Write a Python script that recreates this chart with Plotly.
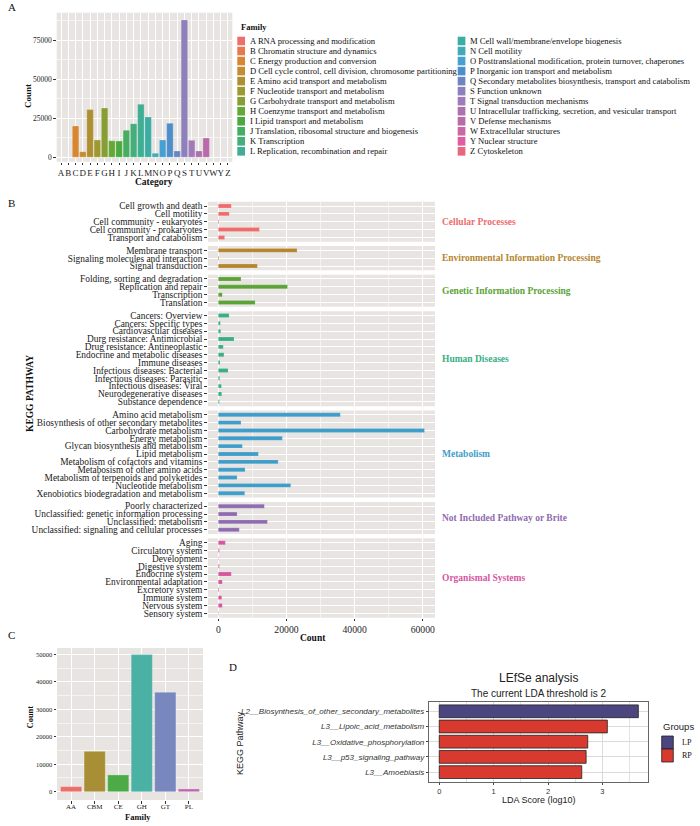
import plotly.graph_objects as go

W, H = 700, 826
SERIF = "Liberation Serif, Times New Roman, serif"
SANS = "Liberation Sans, Arial, sans-serif"

# ---------------- Panel A: COG categories ----------------
cog_letters = ["A", "B", "C", "D", "E", "F", "G", "H", "I", "J", "K", "L",
               "M", "N", "O", "P", "Q", "S", "T", "U", "V", "W", "Y", "Z"]
cog_counts = [0, 0, 20000, 3500, 30500, 11000, 31500, 10500, 10300, 17300, 21500, 34000,
              25800, 2500, 11000, 21800, 4000, 88000, 10800, 4000, 12300, 0, 0, 0]
cog_names = ["RNA processing and modification",
             "Chromatin structure and dynamics",
             "Energy production and conversion",
             "Cell cycle control, cell division, chromosome partitioning",
             "Amino acid transport and metabolism",
             "Nucleotide transport and metabolism",
             "Carbohydrate transport and metabolism",
             "Coenzyme transport and metabolism",
             "Lipid transport and metabolism",
             "Translation, ribosomal structure and biogenesis",
             "Transcription",
             "Replication, recombination and repair",
             "Cell wall/membrane/envelope biogenesis",
             "Cell motility",
             "Posttranslational modification, protein turnover, chaperones",
             "Inorganic ion transport and metabolism",
             "Secondary metabolites biosynthesis, transport and catabolism",
             "Function unknown",
             "Signal transduction mechanisms",
             "Intracellular trafficking, secretion, and vesicular transport",
             "Defense mechanisms",
             "Extracellular structures",
             "Nuclear structure",
             "Cytoskeleton"]

# ---------------- Panel B: KEGG pathways ----------------
kegg_groups = ["Cellular Processes", "Environmental Information Processing",
               "Genetic Information Processing", "Human Diseases", "Metabolism",
               "Not Included Pathway or Brite", "Organismal Systems"]

cp_pathways = ["Cell growth and death", "Cell motility", "Cell community - eukaryotes",
               "Cell community - prokaryotes", "Transport and catabolism"]
cp_counts = [3800, 3200, 200, 12050, 1850]

eip_pathways = ["Membrane transport", "Signaling molecules and interaction", "Signal transduction"]
eip_counts = [23100, 200, 11450]

gip_pathways = ["Folding, sorting and degradation", "Replication and repair",
                "Transcription", "Translation"]
gip_counts = [6650, 20300, 1150, 10800]

hd_pathways = ["Cancers: Overview", "Cancers: Specific types", "Cardiovascular diseases",
               "Durg resistance: Antimicrobial", "Drug resistance: Antineoplastic",
               "Endocrine and metabolic diseases", "Immune diseases",
               "Infectious diseases: Bacterial", "Infectious diseases: Parasitic",
               "Infectious diseases: Viral", "Neurodegenerative diseases",
               "Substance dependence"]
hd_counts = [3150, 600, 700, 4600, 1450, 1650, 500, 2850, 400, 900, 1000, 300]

met_pathways = ["Amino acid metabolism", "Biosynthesis of other secondary metabolites",
                "Carbohydrate metabolism", "Energy metabolism",
                "Glycan biosynthesis and metabolism", "Lipid metabolism",
                "Metabolism of cofactors and vitamins", "Metabosism of other amino acids",
                "Metabolism of terpenoids and polyketides", "Nucleotide metabolism",
                "Xenobiotics biodegradation and metabolism"]
met_counts = [35800, 6650, 60500, 18800, 7050, 11750, 17550, 7850, 5500, 21250, 7750]

nip_pathways = ["Poorly characterized", "Unclassified: genetic information processing",
                "Unclassified: metabolism", "Unclassified: signaling and cellular processes"]
nip_counts = [13500, 5500, 14400, 6150]

os_pathways = ["Aging", "Circulatory system", "Development", "Digestive system",
               "Endocrine system", "Environmental adaptation", "Excretory system",
               "Immune system", "Nervous system", "Sensory system"]
os_counts = [2050, 300, 100, 300, 3800, 1150, 200, 1000, 1150, 100]

# ---------------- Panel C: CAZy families ----------------
cazy_families = ["AA", "CBM", "CE", "GH", "GT", "PL"]
cazy_counts = [1850, 14700, 6100, 49900, 36200, 1000]

# ---------------- Panel D: LEfSe ----------------
lefse_features = ["L2__Biosynthesis_of_other_secondary_metabolites",
                  "L3__Lipoic_acid_metabolism",
                  "L3__Oxidative_phosphorylation",
                  "L3__p53_signaling_pathway",
                  "L3__Amoebiasis"]
lefse_lda = [3.66, 3.09, 2.73, 2.70, 2.62]
lefse_groups = ["LP", "RP", "RP", "RP", "RP"]
lefse_group_names = ["LP", "RP"]

# ---------------- colours (styling) ----------------
cog_colors = ["#EE6E6E", "#E8794F", "#D88630", "#C48D31", "#AE8F32", "#9C9933",
              "#879E34", "#64A837", "#4AAA3E", "#47AD60", "#44AF7C", "#3FAE93",
              "#3BADA3", "#42A9B6", "#47A0D0", "#4E8FCB", "#6E86C0", "#8D80BD",
              "#A07AB9", "#AC72AE", "#B96AA8", "#C869A6", "#E15AA2", "#E6677E"]
kegg_colors = ["#EE6C6C", "#B5862F", "#5BA337", "#3AAE84", "#3E9DC9", "#8F6BB0", "#D4569F"]
cazy_colors = ["#EC6E6B", "#A88F35", "#4DAB47", "#4CB1A5", "#7888BF", "#C465AF"]
lefse_group_colors = ["#4B4580", "#D93A2F"]


def X(px):
    return px / W


def Y(py):
    return 1 - py / H


PANEL_BG = "#E8E4E1"
TICKC = "#333333"

fig = go.Figure()
layout = dict(width=W, height=H, margin=dict(l=0, r=0, t=0, b=0),
              paper_bgcolor="white", plot_bgcolor="rgba(0,0,0,0)",
              showlegend=False, font=dict(family=SERIF, color="#1a1a1a"))
shapes = []
annotations = []


def ann(text, x, y, size, family=SERIF, color="#111", xanchor="center", yanchor="middle",
        angle=0, bold=False):
    t = "<b>%s</b>" % text if bold else text
    annotations.append(dict(text=t, x=X(x), y=Y(y), xref="paper", yref="paper",
                            showarrow=False, xanchor=xanchor, yanchor=yanchor,
                            textangle=angle, font=dict(family=family, size=size, color=color)))


def bg_rect(xn, yn, color=PANEL_BG):
    shapes.append(dict(type="rect", xref=xn + " domain", yref=yn + " domain",
                       x0=0, x1=1, y0=0, y1=1, fillcolor=color, line=dict(width=0),
                       layer="below"))


# ---------------- Panel A ----------------
fig.add_trace(go.Bar(x=cog_letters, y=cog_counts, marker=dict(color=cog_colors,
                     line=dict(color="rgba(255,255,255,0.5)", width=0.5)),
                     width=0.9, xaxis="x", yaxis="y"))
layout["xaxis"] = dict(domain=[X(56.7), X(232.3)], anchor="y", type="category",
                       categoryorder="array", categoryarray=cog_letters,
                       tickmode="array", tickvals=cog_letters, ticktext=cog_letters,
                       tickangle=0,
                       range=[-0.6, len(cog_letters) - 0.4], showgrid=True,
                       gridcolor="white", gridwidth=1, zeroline=False, ticks="outside",
                       ticklen=2.5, tickcolor=TICKC, tickwidth=0.8,
                       tickfont=dict(family=SERIF, size=9, color="#222"), fixedrange=True)
layout["yaxis"] = dict(domain=[Y(161.7), Y(12.7)], anchor="x", range=[-2900, 92600],
                       tickvals=[0, 25000, 50000, 75000], tickformat="d", showgrid=True,
                       gridcolor="white", gridwidth=1, zeroline=False, ticks="outside",
                       ticklen=2.5, tickcolor=TICKC, tickwidth=0.8, tickangle=0,
                       tickfont=dict(family=SERIF, size=7.5, color="#222"),
                       minor=dict(tickvals=[12500, 37500, 62500, 87500], showgrid=True,
                                  gridcolor="rgba(255,255,255,0.6)", gridwidth=0.5, ticks=""),
                       fixedrange=True)
bg_rect("x", "y")
ann("A", 12, 7, 11)
ann("Count", 28, 96, 9, angle=-90, bold=True)
ann("Category", 154, 181.5, 9.5, bold=True)

# legend of panel A (two columns)
ann("Family", 239, 26.7, 8.5, xanchor="left", bold=True)
col_x = [(237.3, 247.8), (457.7, 468.3)]
per_col = 12
for i, (letter, name) in enumerate(zip(cog_letters, cog_names)):
    c = i // per_col
    r = i % per_col
    yc = 41 + r * 10.03
    sx, tx = col_x[c]
    shapes.append(dict(type="rect", xref="paper", yref="paper", x0=X(sx), x1=X(sx + 7.7),
                       y0=Y(yc + 4.3), y1=Y(yc - 4.3), fillcolor=cog_colors[i],
                       line=dict(width=0)))
    ann("%s %s" % (letter, name), tx, yc, 8.6, xanchor="left")

# ---------------- Panel B ----------------
kegg_pathways = [cp_pathways, eip_pathways, gip_pathways, hd_pathways, met_pathways,
                 nip_pathways, os_pathways]
kegg_counts = [cp_counts, eip_counts, gip_counts, hd_counts, met_counts, nip_counts, os_counts]
row_px = 7.85
pad = 0.55
gap = 4.3
top = 201.7
xr = [-3028, 63588]
nG = len(kegg_groups)
for k, (grp, paths, counts) in enumerate(zip(kegg_groups, kegg_pathways, kegg_counts)):
    idx = k + 2
    xn, yn = "x%d" % idx, "y%d" % idx
    n = len(paths)
    h = (n - 1 + 2 * pad) * row_px
    bottom = top + h
    fig.add_trace(go.Bar(x=counts, y=paths, orientation="h", width=0.5,
                         marker=dict(color=kegg_colors[k],
                                     line=dict(color="rgba(255,255,255,0.4)", width=0.4)),
                         xaxis=xn, yaxis=yn))
    last = (k == nG - 1)
    layout["xaxis%d" % idx] = dict(domain=[X(208), X(435)], anchor=yn, range=xr,
                                   tickvals=[0, 20000, 40000, 60000], tickformat="d",
                                   tickangle=0,
                                   showgrid=True, gridcolor="white", gridwidth=1,
                                   zeroline=False, showticklabels=last,
                                   ticks="outside" if last else "", ticklen=2.7,
                                   tickcolor=TICKC, tickwidth=0.8,
                                   tickfont=dict(family=SERIF, size=9.7, color="#222"),
                                   minor=dict(tickvals=[10000, 30000, 50000], showgrid=True,
                                              gridcolor="rgba(255,255,255,0.6)",
                                              gridwidth=0.5, ticks=""),
                                   fixedrange=True)
    layout["yaxis%d" % idx] = dict(domain=[Y(bottom), Y(top)], anchor=xn, type="category",
                                   categoryorder="array", categoryarray=paths,
                                   tickmode="array", tickvals=paths, ticktext=paths,
                                   tickangle=0,
                                   range=[n - 1 + pad, -pad], showgrid=True,
                                   gridcolor="white", gridwidth=1, zeroline=False,
                                   ticks="outside", ticklen=2.7, tickcolor=TICKC,
                                   tickwidth=0.8,
                                   tickfont=dict(family=SERIF, size=9.4, color="#1a1a1a"),
                                   fixedrange=True)
    bg_rect(xn, yn)
    ann(grp, 440, (top + bottom) / 2, 9.5, color=kegg_colors[k], xanchor="left", bold=True)
    top = bottom + gap

ann("B", 11, 203.5, 11)
ann("KEGG PATHWAY", 30, 394, 9.5, angle=-90, bold=True)
ann("Count", 312.5, 637.5, 9.5, bold=True)

# ---------------- Panel C ----------------
fig.add_trace(go.Bar(x=cazy_families, y=cazy_counts, width=0.9,
                     marker=dict(color=cazy_colors,
                                 line=dict(color="rgba(255,255,255,0.5)", width=0.5)),
                     xaxis="x9", yaxis="y9"))
layout["xaxis9"] = dict(domain=[X(57), X(203)], anchor="y9", type="category",
                        categoryorder="array", categoryarray=cazy_families,
                        tickmode="array", tickvals=cazy_families, ticktext=cazy_families,
                        tickangle=0, ticklabelstandoff=-3,
                        range=[-0.6, len(cazy_families) - 0.4], showgrid=True,
                        gridcolor="white", gridwidth=1, zeroline=False, ticks="outside",
                        ticklen=2.5, tickcolor=TICKC, tickwidth=0.8,
                        tickfont=dict(family=SERIF, size=7, color="#222"), fixedrange=True)
layout["yaxis9"] = dict(domain=[Y(800), Y(648)], anchor="x9", range=[-3020, 52290],
                        tickvals=[0, 10000, 20000, 30000, 40000, 50000], tickformat="d",
                        tickangle=0,
                        showgrid=True, gridcolor="white", gridwidth=1, zeroline=False,
                        ticks="outside", ticklen=2.5, tickcolor=TICKC, tickwidth=0.8,
                        tickfont=dict(family=SERIF, size=6.5, color="#222"),
                        minor=dict(tickvals=[5000, 15000, 25000, 35000, 45000], showgrid=True,
                                   gridcolor="rgba(255,255,255,0.6)", gridwidth=0.5, ticks=""),
                        fixedrange=True)
bg_rect("x9", "y9")
ann("C", 11.5, 634.5, 11)
ann("Count", 29, 716.5, 8.5, angle=-90, bold=True)
ann("Family", 138, 817, 8.5, bold=True)

# ---------------- Panel D ----------------
gcol = dict(zip(lefse_group_names, lefse_group_colors))
fig.add_trace(go.Bar(x=lefse_lda, y=lefse_features, orientation="h", width=0.84,
                     marker=dict(color=[gcol[g] for g in lefse_groups],
                                 line=dict(color="#222", width=0.8)),
                     xaxis="x10", yaxis="y10"))
nF = len(lefse_features)
layout["xaxis10"] = dict(domain=[X(429.3), X(648.3)], anchor="y10", range=[-0.183, 3.843],
                         tickvals=[0, 1, 2, 3], showgrid=True, gridcolor="#DEDAD8",
                         tickangle=0,
                         gridwidth=0.8, zeroline=False, ticks="outside", ticklen=2.5,
                         tickcolor="#444", tickwidth=0.8, showline=True, mirror=True,
                         linecolor="#666", linewidth=0.8,
                         tickfont=dict(family=SANS, size=7.5, color="#333"),
                         minor=dict(tickvals=[0.5, 1.5, 2.5, 3.5], showgrid=True,
                                    gridcolor="#E6E2E0", gridwidth=0.5, ticks=""),
                         fixedrange=True)
layout["yaxis10"] = dict(domain=[Y(781.7), Y(701.7)], anchor="x10", type="category",
                         categoryorder="array", categoryarray=lefse_features,
                         tickmode="array", tickvals=lefse_features, ticktext=lefse_features,
                         tickangle=0,
                         range=[nF - 1 + 0.63, -0.63], showgrid=True, gridcolor="#DEDAD8",
                         gridwidth=0.8, zeroline=False, ticks="outside", ticklen=2.5,
                         tickcolor="#444", tickwidth=0.8, showline=True, mirror=True,
                         linecolor="#666", linewidth=0.8,
                         tickfont=dict(family=SANS, size=8, color="#333", style="italic"),
                         fixedrange=True)
ann("D", 233, 667, 11)
ann("LEfSe analysis", 538.8, 678.3, 12, family=SANS, color="#222")
ann("The current LDA threshold is 2", 538.8, 693.3, 10, family=SANS, color="#222")
ann("LDA Score (log10)", 538.8, 800, 9, family=SANS, color="#222")
ann("KEGG Pathway", 240, 743, 9, family=SANS, color="#222", angle=-90)
ann("Groups", 661, 726.7, 9.5, family=SANS, color="#222", xanchor="left")
for i, (gname, gc) in enumerate(zip(lefse_group_names, lefse_group_colors)):
    y0 = 736 + i * 13
    shapes.append(dict(type="rect", xref="paper", yref="paper", x0=X(661.7), x1=X(673.3),
                       y0=Y(y0 + 13), y1=Y(y0), fillcolor=gc,
                       line=dict(color="#222", width=0.8)))
    ann(gname, 680, y0 + 6.5, 8, xanchor="left")

layout["shapes"] = shapes
layout["annotations"] = annotations
fig.update_layout(**layout)
fig.write_html("out.html", config={"displayModeBar": False},
               post_script="document.body.style.margin='0px';"
                           "document.body.style.padding='0px';"
                           "document.body.style.overflow='hidden';")
